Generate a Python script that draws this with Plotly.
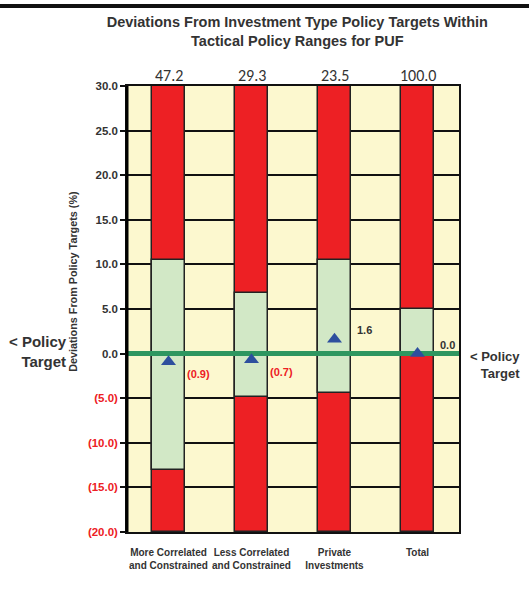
import plotly.graph_objects as go

categories = ["More Correlated<br>and Constrained", "Less Correlated<br>and Constrained",
              "Private<br>Investments", "Total"]
weights = [47.2, 29.3, 23.5, 100.0]
range_low = [-13.1, -4.9, -4.4, 0.0]
range_high = [10.5, 6.8, 10.5, 5.0]
actual = [-0.9, -0.7, 1.6, 0.0]
y_ticks = [30, 25, 20, 15, 10, 5, 0, -5, -10, -15, -20]

NARROW = "Liberation Sans Narrow, Arial Narrow, Liberation Sans, Arial"
RED = "#ed2024"
GREEN = "#d2e8c6"
YELLOW = "#fcf8cf"
DARK = "#333333"

xs = list(range(len(categories)))
y_min, y_max = min(y_ticks), max(y_ticks)


def tick_label(v):
    if v < 0:
        return f"<span style='color:{RED}'>({abs(v):.1f})</span>"
    return f"{v:.1f}"


fig = go.Figure()

# full red bar (outside policy range)
fig.add_trace(go.Bar(
    x=xs, y=[y_max - y_min] * len(xs), base=[y_min] * len(xs),
    width=0.4, marker=dict(color=RED, line=dict(color="#222", width=1.5)),
    hoverinfo="skip", showlegend=False))

# green tactical range
fig.add_trace(go.Bar(
    x=xs, y=[h - l for h, l in zip(range_high, range_low)], base=range_low,
    width=0.4, marker=dict(color=GREEN, line=dict(color="#222", width=1.5)),
    showlegend=False))

# policy target line
fig.add_trace(go.Scatter(
    x=[-0.5, len(xs) - 0.5], y=[0, 0], mode="lines",
    line=dict(color="#2e9660", width=5), hoverinfo="skip", showlegend=False))

# actual deviations
fig.add_trace(go.Scatter(
    x=xs, y=actual, mode="markers",
    marker=dict(symbol="triangle-up", size=13, color="#2d4f9e"),
    showlegend=False))

fig.update_layout(
    width=529, height=603,
    margin=dict(l=127, r=70, t=86, b=71, autoexpand=False),
    paper_bgcolor="white", plot_bgcolor=YELLOW,
    barmode="overlay", bargap=0,
    font=dict(family=NARROW, color=DARK),
    title=dict(
        text="<b>Deviations From Investment Type Policy Targets Within<br>Tactical Policy Ranges for PUF</b>",
        x=0.562, xanchor="center", yref="container", y=0.955, yanchor="top",
        font=dict(size=14.5, family=NARROW, color=DARK)),
)

fig.update_xaxes(
    range=[-0.5, len(xs) - 0.5], tickvals=xs,
    ticktext=[f"<b>{c}</b>" for c in categories],
    tickfont=dict(size=10, color=DARK), ticks="", tickangle=0, automargin=False,
    ticklabelstandoff=10,
    showgrid=False, zeroline=False,
    showline=True, linecolor="#111", linewidth=2, mirror=True)

fig.update_yaxes(
    range=[y_min, y_max], tickvals=y_ticks,
    ticktext=[f"<b>{tick_label(v)}</b>" for v in y_ticks],
    tickfont=dict(size=11.5, color=DARK), ticks="outside", ticklen=5,
    tickcolor="#111", tickwidth=1.5, automargin=False,
    showgrid=True, gridcolor="#111", gridwidth=1.5, zeroline=False,
    showline=True, linecolor="#111", linewidth=1.5, mirror=True)

# thick left axis
fig.add_shape(type="line", xref="paper", yref="paper", x0=0, x1=0, y0=0, y1=1,
              line=dict(color="#000", width=3))

# thick black band across the top
fig.add_shape(type="rect", xref="paper", yref="paper",
              x0=-0.3825, x1=1.211, y0=1.175, y1=1.184,
              fillcolor="#111", line=dict(width=0))

# weights above bars
for x, w in zip(xs, weights):
    fig.add_annotation(x=x, y=1, xref="x", yref="paper", yanchor="bottom",
                       text=f"{w:.1f}", showarrow=False, yshift=-1,
                       font=dict(size=16, family="Carlito, Calibri, Lato, sans-serif", color=DARK))

# value labels beside triangles
for x, v in zip(xs, actual):
    if v < 0:
        txt, col, ys = f"({abs(v):.1f})", RED, -12
    else:
        txt, col, ys = f"{v:.1f}", DARK, 9
    fig.add_annotation(x=x, y=v, text=f"<b>{txt}</b>", showarrow=False,
                       xshift=30, yshift=ys,
                       font=dict(size=11, family="Liberation Sans, Arial", color=col))

# y-axis title
fig.add_annotation(x=-0.163, y=0.563, xref="paper", yref="paper", xanchor="center",
                   text="<b>Deviations From Policy Targets (%)</b>", textangle=-90,
                   showarrow=False, font=dict(size=10.8, color=DARK))

# policy target labels
for xp, size, shift in ((-0.175, 15, 2), (1.19, 13, -11)):
    fig.add_annotation(x=xp, y=0, xref="paper", yref="y", xanchor="right",
                       text="<b>&lt; Policy<br>Target</b>", align="right",
                       showarrow=False, yshift=shift,
                       font=dict(size=size, family="Liberation Sans, Arial", color=DARK))

fig.write_html("out.html", config={"displayModeBar": False},
               post_script="document.body.style.margin='0px';")
